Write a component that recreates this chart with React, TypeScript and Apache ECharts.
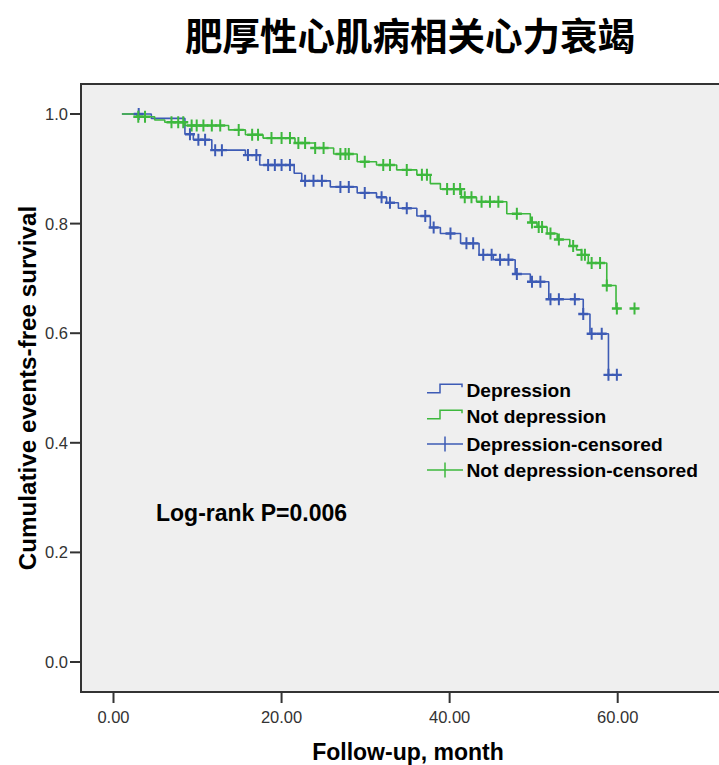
import React, { useEffect, useRef } from 'react';
import * as echarts from 'echarts';

const TITLE = '肥厚性心肌病相关心力衰竭';
const X_NAME = 'Follow-up, month';
const Y_NAME = 'Cumulative events-free survival';
const ANNOTATION = 'Log-rank P=0.006';
const LEGEND_LABELS = ['Depression', 'Not depression', 'Depression-censored', 'Not depression-censored'];

const X_MIN = 0;
const X_MAX = 60;
const X_INTERVAL = 20;
const Y_MIN = 0;
const Y_MAX = 1;
const Y_INTERVAL = 0.2;
const X_TICKS = [0, 20, 40, 60];
const Y_TICKS = [0, 0.2, 0.4, 0.6, 0.8, 1.0];

// Not depression (green): event times and survival after each step
const greenTimes = [1.0, 2.8, 4.9, 6.1, 8.5, 13.7, 15.7, 17.8, 21.6, 24.0, 26.2, 29.0, 31.3, 33.7, 36.1, 37.7, 38.9, 41.4, 43.2, 46.8, 49.6, 50.4, 51.6, 52.8, 54.3, 55.1, 55.7, 56.5, 58.7, 59.8, 62.3];
const greenSurv = [1.0, 0.995, 0.989, 0.985, 0.979, 0.971, 0.962, 0.956, 0.947, 0.938, 0.927, 0.913, 0.907, 0.898, 0.889, 0.873, 0.863, 0.848, 0.84, 0.818, 0.802, 0.794, 0.782, 0.771, 0.759, 0.752, 0.743, 0.728, 0.687, 0.645, 0.645];
const greenCensor = [2.95, 3.75, 6.9, 7.7, 8.3, 9.3, 9.9, 10.7, 11.7, 12.7, 14.9, 16.5, 17.2, 18.8, 20.0, 21.0, 22.0, 22.8, 24.0, 25.0, 27.0, 27.6, 28.0, 29.9, 32.1, 32.9, 34.9, 36.7, 37.3, 39.7, 40.5, 41.25, 41.8, 42.6, 43.8, 44.8, 45.8, 48.0, 49.8, 50.6, 51.0, 52.0, 53.0, 54.7, 55.7, 56.1, 56.9, 57.9, 58.7, 59.9, 62.0];

// Depression (blue)
const blueTimes = [1.0, 4.5, 8.5, 9.5, 11.7, 15.7, 17.4, 21.5, 22.4, 25.8, 29.0, 31.3, 32.5, 33.9, 36.1, 37.7, 38.9, 41.3, 43.5, 45.2, 47.8, 49.6, 51.8, 55.9, 56.7, 58.9, 60.5];
const blueSurv = [1.0, 0.992, 0.963, 0.953, 0.934, 0.925, 0.907, 0.892, 0.878, 0.867, 0.856, 0.848, 0.838, 0.828, 0.814, 0.793, 0.782, 0.764, 0.743, 0.734, 0.708, 0.694, 0.662, 0.635, 0.599, 0.524, 0.524];
const blueCensor = [3.0, 9.1, 10.1, 10.9, 12.1, 12.9, 16.0, 17.0, 18.4, 19.2, 20.0, 21.0, 22.8, 23.8, 24.8, 27.0, 28.0, 29.9, 31.9, 32.9, 34.9, 37.1, 38.1, 40.1, 42.0, 42.8, 44.0, 45.0, 46.0, 47.0, 48.0, 49.8, 50.8, 52.0, 53.0, 54.9, 55.9, 56.9, 58.1, 58.9, 59.9];

const BLUE = '#3D5BB5';
const GREEN = '#3DB83D';
const FONT = '"Liberation Sans", Arial, sans-serif';
const PLUS = 'path://M4,0H6V4H10V6H6V10H4V6H0V4H4Z';

function survAt(times: number[], surv: number[], t: number) {
  let v = surv[0];
  for (let i = 0; i < times.length; i++) {
    if (times[i] <= t) v = surv[i];
  }
  return v;
}

export default function App() {
  const ref = useRef<HTMLDivElement>(null);
  useEffect(() => {
    const chart = echarts.init(ref.current!, null, { renderer: 'svg' });
    const gridLeft = 113.5;
    const gridRight = 101.3;
    const gridTop = 114;
    const gridBottom = 103;
    const frameX = 81;
    const frameY = 84;
    const frameBottom = 692;
    const tickLen = 11;

    const legendRows = [390.7, 416.7, 444, 470];
    const legendGraphics: any[] = [];
    const colors = [BLUE, GREEN, BLUE, GREEN];
    legendRows.forEach((y, i) => {
      if (i < 2) {
        legendGraphics.push({
          type: 'polyline',
          z: 10,
          shape: { points: [[427, y + 2], [440, y + 2], [440, y - 6.5], [462, y - 6.5], [462, y - 3.5]] },
          style: { stroke: colors[i], lineWidth: 1.5, fill: null },
        });
      } else {
        legendGraphics.push({
          type: 'line', z: 10,
          shape: { x1: 427, y1: y, x2: 463, y2: y },
          style: { stroke: colors[i], lineWidth: 1.5 },
        });
        legendGraphics.push({
          type: 'line', z: 10,
          shape: { x1: 445, y1: y - 7.5, x2: 445, y2: y + 7.5 },
          style: { stroke: colors[i], lineWidth: 1.5 },
        });
      }
      legendGraphics.push({
        type: 'text', z: 10, x: 466.5, y,
        style: {
          text: LEGEND_LABELS[i], fill: '#000',
          font: `bold 19.2px ${FONT}`, textAlign: 'left', textVerticalAlign: 'middle',
        },
      });
    });

    const baseGraphics: any[] = [
      {
        type: 'rect', z: -10, silent: true,
        shape: { x: frameX, y: frameY, width: 720, height: frameBottom - frameY },
        style: { fill: '#EFEFEF', stroke: '#333', lineWidth: 2 },
      },
      {
        type: 'text', x: 410, y: 33,
        style: { text: TITLE, fill: '#000', font: 'bold 37.5px "Noto Sans CJK SC", sans-serif', textAlign: 'center', textVerticalAlign: 'middle' },
      },
      {
        type: 'text', x: 408, y: 752,
        style: { text: X_NAME, fill: '#000', font: `bold 23px ${FONT}`, textAlign: 'center', textVerticalAlign: 'middle' },
      },
      {
        type: 'text', x: 27, y: 388, rotation: Math.PI / 2,
        style: { text: Y_NAME, fill: '#000', font: `bold 24.2px ${FONT}`, textAlign: 'center', textVerticalAlign: 'middle' },
      },
      {
        type: 'text', x: 156, y: 513, z: 10,
        style: { text: ANNOTATION, fill: '#000', font: `bold 23px ${FONT}`, textAlign: 'left', textVerticalAlign: 'middle' },
      },
      ...legendGraphics,
    ];

    const option: any = {
      animation: false,
      backgroundColor: '#ffffff',
      grid: { left: gridLeft, right: gridRight, top: gridTop, bottom: gridBottom, containLabel: false },
      xAxis: {
        type: 'value', min: X_MIN, max: X_MAX, interval: X_INTERVAL, offset: frameBottom - (765 - gridBottom),
        axisLine: { show: false },
        axisTick: { show: false },
        splitLine: { show: false },
        axisLabel: { margin: 16, color: '#333', fontSize: 16.5, fontFamily: FONT, formatter: (v: number) => v.toFixed(2) },
      },
      yAxis: {
        type: 'value', min: Y_MIN, max: Y_MAX, interval: Y_INTERVAL, offset: gridLeft - frameX,
        axisLine: { show: false },
        axisTick: { show: false },
        splitLine: { show: false },
        axisLabel: { margin: 13, color: '#333', fontSize: 16.5, fontFamily: FONT, formatter: (v: number) => v.toFixed(1) },
      },
      graphic: baseGraphics,
      series: [
        {
          name: LEGEND_LABELS[0], type: 'line', step: 'end', clip: false, showSymbol: false, z: 3,
          data: blueTimes.map((t, i) => [t, blueSurv[i]]),
          lineStyle: { color: BLUE, width: 1.6 },
        },
        {
          name: LEGEND_LABELS[1], type: 'line', step: 'end', clip: false, showSymbol: false, z: 3,
          data: greenTimes.map((t, i) => [t, greenSurv[i]]),
          lineStyle: { color: GREEN, width: 1.6 },
        },
        {
          name: LEGEND_LABELS[2], type: 'scatter', clip: false, z: 4,
          symbol: PLUS, symbolSize: [10, 12],
          data: blueCensor.map((t) => [t, survAt(blueTimes, blueSurv, t)]),
          itemStyle: { color: BLUE, opacity: 1 },
        },
        {
          name: LEGEND_LABELS[3], type: 'scatter', clip: false, z: 4,
          symbol: PLUS, symbolSize: [10, 12],
          data: greenCensor.map((t) => [t, survAt(greenTimes, greenSurv, t)]),
          itemStyle: { color: GREEN, opacity: 1 },
        },
      ],
    };
    chart.setOption(option);

    // tick marks on the frame, positioned through the chart's own scales
    const tickGraphics: any[] = [];
    X_TICKS.forEach((v) => {
      const p = chart.convertToPixel({ gridIndex: 0 }, [v, 0]) as number[];
      tickGraphics.push({
        type: 'line', z: 5,
        shape: { x1: p[0], y1: frameBottom, x2: p[0], y2: frameBottom + tickLen },
        style: { stroke: '#333', lineWidth: 2 },
      });
    });
    Y_TICKS.forEach((v) => {
      const p = chart.convertToPixel({ gridIndex: 0 }, [0, v]) as number[];
      tickGraphics.push({
        type: 'line', z: 5,
        shape: { x1: frameX - tickLen, y1: p[1], x2: frameX, y2: p[1] },
        style: { stroke: '#333', lineWidth: 2 },
      });
    });
    chart.setOption({ graphic: [...baseGraphics, ...tickGraphics] });

    return () => chart.dispose();
  }, []);
  return <div ref={ref} style={{ position: 'fixed', left: 0, top: 0, width: 719, height: 765, background: '#fff' }} />;
}
